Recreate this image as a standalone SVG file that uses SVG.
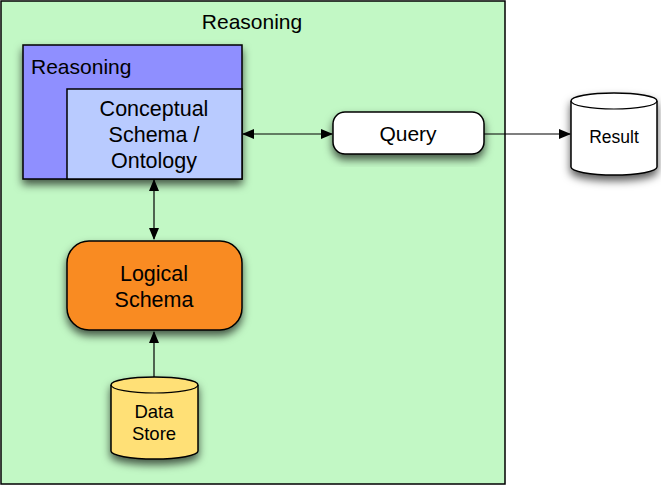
<svg xmlns="http://www.w3.org/2000/svg" width="661" height="486" viewBox="0 0 661 486">
  <style>
    .ln { fill: none; stroke: #000; stroke-width: 1.2; }
    .box { stroke: #000; stroke-width: 1.5; }
    .t { font-family: "Liberation Sans", Arial, sans-serif; fill: #000; }
  </style>
  <defs>
    <filter id="shadow" x="-20%" y="-20%" width="140%" height="150%">
      <feDropShadow dx="0" dy="5" stdDeviation="4" flood-color="#000" flood-opacity="0.65"/>
    </filter>
    <marker id="arr" markerWidth="12" markerHeight="10" refX="11" refY="5" orient="auto-start-reverse" markerUnits="userSpaceOnUse">
      <path d="M0,0 L12,5 L0,10 Z" fill="#000"/>
    </marker>
  </defs>

  <!-- outer container -->
  <g id="container">
    <rect x="1" y="1" width="504" height="483" fill="#c2f8c5" class="box" stroke-width="1.2"/>
    <text class="t" x="252" y="29" font-size="21" text-anchor="middle">Reasoning</text>
  </g>

  <!-- reasoning frame holding the conceptual schema -->
  <g id="reasoning">
    <rect x="23" y="45" width="219" height="134" fill="#8f8fff" class="box" filter="url(#shadow)"/>
    <text class="t" x="31" y="74" font-size="21">Reasoning</text>
  </g>

  <g id="conceptual">
    <rect x="67" y="89" width="175" height="90" fill="#b9cbff" class="box"/>
    <text class="t" x="154" y="116" font-size="21.5" text-anchor="middle">Conceptual</text>
    <text class="t" x="154" y="142" font-size="21.5" text-anchor="middle">Schema /</text>
    <text class="t" x="154" y="168" font-size="21.5" text-anchor="middle">Ontology</text>
  </g>

  <g id="query">
    <rect x="333" y="112" width="151" height="42" rx="12" fill="#fff" class="box" filter="url(#shadow)"/>
    <text class="t" x="408" y="141" font-size="21" text-anchor="middle">Query</text>
  </g>

  <g id="result">
    <path d="M571,101 A43,8 0 0 1 657,101 L657,167 A43,8 0 0 1 571,167 Z" fill="#fff" class="box" filter="url(#shadow)"/>
    <path d="M571,101 A43,8 0 0 0 657,101" class="ln" stroke-width="1.5"/>
    <text class="t" x="614" y="143" font-size="17.5" text-anchor="middle">Result</text>
  </g>

  <g id="logical">
    <rect x="67" y="241" width="175" height="89" rx="22" fill="#f98b20" class="box" filter="url(#shadow)"/>
    <text class="t" x="154" y="281" font-size="21.5" text-anchor="middle">Logical</text>
    <text class="t" x="154" y="307" font-size="21.5" text-anchor="middle">Schema</text>
  </g>

  <g id="datastore">
    <path d="M111,385 A43.5,8 0 0 1 198,385 L198,451 A43.5,8 0 0 1 111,451 Z" fill="#ffe076" class="box" filter="url(#shadow)"/>
    <path d="M111,385 A43.5,8 0 0 0 198,385" class="ln" stroke-width="1.5"/>
    <text class="t" x="154" y="418" font-size="18.5" text-anchor="middle">Data</text>
    <text class="t" x="154" y="440" font-size="18.5" text-anchor="middle">Store</text>
  </g>

  <!-- connectors -->
  <g id="connectors">
    <line x1="243" y1="134" x2="332" y2="134" class="ln" marker-start="url(#arr)" marker-end="url(#arr)"/>
    <line x1="484" y1="134" x2="570" y2="134" class="ln" marker-end="url(#arr)"/>
    <line x1="154" y1="180" x2="154" y2="239" class="ln" marker-start="url(#arr)" marker-end="url(#arr)"/>
    <line x1="154" y1="377" x2="154" y2="332" class="ln" marker-end="url(#arr)"/>
  </g>
</svg>
